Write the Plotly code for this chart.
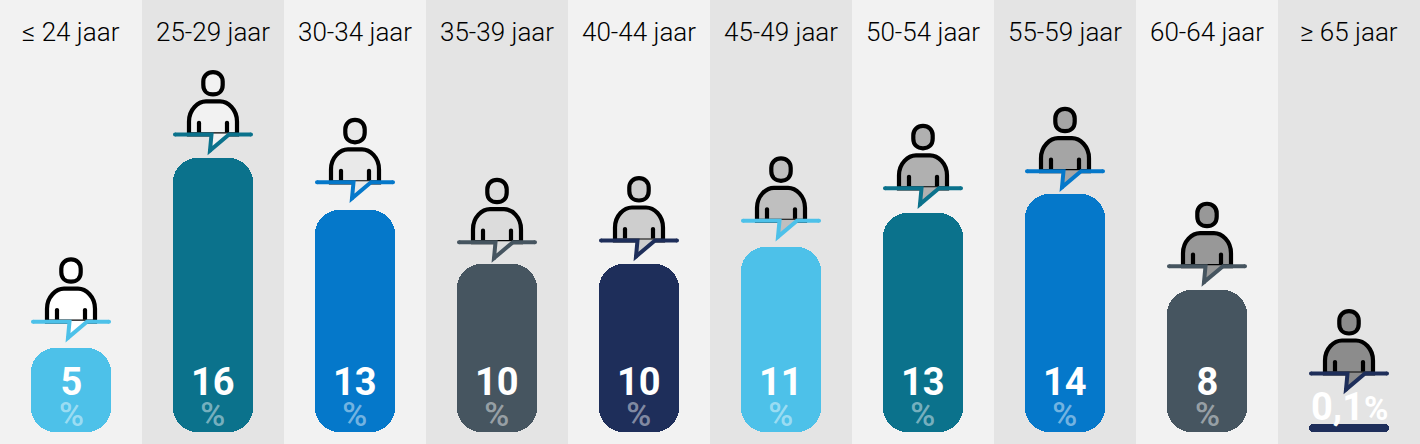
import plotly.graph_objects as go

categories = ["≤ 24 jaar", "25-29 jaar", "30-34 jaar", "35-39 jaar", "40-44 jaar",
              "45-49 jaar", "50-54 jaar", "55-59 jaar", "60-64 jaar", "≥ 65 jaar"]
number_labels = ["5", "16", "13", "10", "10", "11", "13", "14", "8", "0,1"]
# bar lengths (axis units)
bar_values = [4.9, 16.0, 13.0, 9.8, 9.8, 10.8, 12.8, 13.9, 8.3, 0.47]
# level of the speech-line under each person (axis units)
icon_levels = [6.45, 17.4, 14.6, 11.1, 11.2, 12.35, 14.25, 15.25, 9.7, 3.42]
bar_colors = ["#4dc1e9", "#0b728c", "#0578ca", "#465560", "#1e2e5a",
              "#4dc1e9", "#0b728c", "#0578ca", "#465560", "#1e2e5a"]
person_fills = ["#ffffff", "#f2f2f2", "#e9e9e9", "#dcdcdc", "#cecece",
                "#bfbfbf", "#b0b0b0", "#a5a5a5", "#989898", "#8c8c8c"]
band_colors = ["#f2f2f2", "#e4e4e4"]

FONT = "Roboto"

fig = go.Figure()
fig.add_bar(x=categories, y=bar_values, base=[0] * len(bar_values), width=0.563,
            hoverinfo="skip", showlegend=False,
            marker=dict(color=bar_colors, cornerradius=24, line_width=0))

shapes = []
for i in range(len(categories)):
    shapes.append(dict(type="rect", xref="x", yref="paper", x0=i - 0.5, x1=i + 0.5, y0=0, y1=1,
                       fillcolor=band_colors[i % 2], line_width=0, layer="below"))


def pix(i, level, path, fill="rgba(0,0,0,0)", color=None, width=0):
    return dict(type="path", xref="x", yref="y", xsizemode="pixel", ysizemode="pixel",
                xanchor=i, yanchor=level, path=path, fillcolor=fill,
                line=dict(color=color or "rgba(0,0,0,0)", width=width), layer="above")


def dot(x, y, r):
    k = 0.5523 * r
    return (f"M{x-r},{y} C{x-r},{y+k} {x-k},{y+r} {x},{y+r} C{x+k},{y+r} {x+r},{y+k} {x+r},{y} "
            f"C{x+r},{y-k} {x+k},{y-r} {x},{y-r} C{x-k},{y-r} {x-r},{y-k} {x-r},{y} Z")


HEAD = ("M-9.7,49.5 C-9.7,43.5 -5.5,40 0,40 C5.5,40 9.7,43.5 9.7,49.5 L9.7,53 "
        "C9.7,58.5 5.5,62.4 0,62.4 C-5.5,62.4 -9.7,58.5 -9.7,53 Z")
BODY = "M-24,0 L-24,13 C-24,25 -15,33 -7,33 L7,33 C15,33 24,25 24,13 L24,0 Z"
TAIL = "M-1.5,1 L-3,-16 L16,0 L16,1 Z"
ARM_L = "M-14,2 L-14,11.5"
ARM_R = "M14,2 L14,11.5"
SPEECH = "M-38,0 L-1.5,0 L-3,-16 L16,0 L38,0"
STROKE = 4.2
SPEECH_W = 4

for i, level in enumerate(icon_levels):
    f, c = person_fills[i], bar_colors[i]
    shapes.append(pix(i, level, HEAD, f, "#000000", STROKE))
    shapes.append(pix(i, level, BODY, f, "#000000", STROKE))
    shapes.append(pix(i, level, TAIL, f))
    for arm, ax in ((ARM_L, -14), (ARM_R, 14)):
        shapes.append(pix(i, level, arm, color="#000000", width=STROKE))
        shapes.append(pix(i, level, dot(ax, 11.5, STROKE / 2), "#000000"))
    shapes.append(pix(i, level, SPEECH, color=c, width=SPEECH_W))
    for dx, dy in ((-38, 0), (38, 0), (-3, -16)):
        shapes.append(pix(i, level, dot(dx, dy, SPEECH_W / 2), c))

annotations = []
for i, cat in enumerate(categories):
    annotations.append(dict(x=cat, xref="x", y=1, yref="paper", yshift=-32, yanchor="middle",
                            text=cat, showarrow=False,
                            font=dict(family=FONT, size=26, color="#000000", weight=300)))
    if number_labels[i] == "0,1":
        annotations.append(dict(x=cat, xref="x", y=0, yref="y", yshift=25, yanchor="middle",
                                text="<b>0,1</b><span style='font-size:33px'><b>%</b></span>",
                                showarrow=False,
                                font=dict(family=FONT, size=38, color="#ffffff")))
    else:
        annotations.append(dict(
            x=cat, xref="x", y=0, yref="y", yshift=35, yanchor="middle", showarrow=False,
            text=(f"<span style='font-size:38px'><b>{number_labels[i]}</b></span><br>"
                  "<span style='font-size:34px;font-weight:500;color:rgba(255,255,255,0.45)'>%</span>"),
            font=dict(family=FONT, size=24, color="#ffffff")))

fig.update_layout(
    width=1420, height=444, margin=dict(l=0, r=0, t=0, b=0),
    barmode="overlay", bargap=0, showlegend=False,
    paper_bgcolor="#f2f2f2", plot_bgcolor="rgba(0,0,0,0)",
    xaxis=dict(type="category", categoryorder="array", categoryarray=categories,
               range=[-0.5, 9.5], visible=False, fixedrange=True),
    yaxis=dict(range=[-0.7018, 25.263], visible=False, fixedrange=True),
    shapes=shapes, annotations=annotations,
)
fig.write_html("out.html", config=dict(displayModeBar=False),
               post_script="document.body.style.margin='0';document.documentElement.style.overflow='hidden';")
